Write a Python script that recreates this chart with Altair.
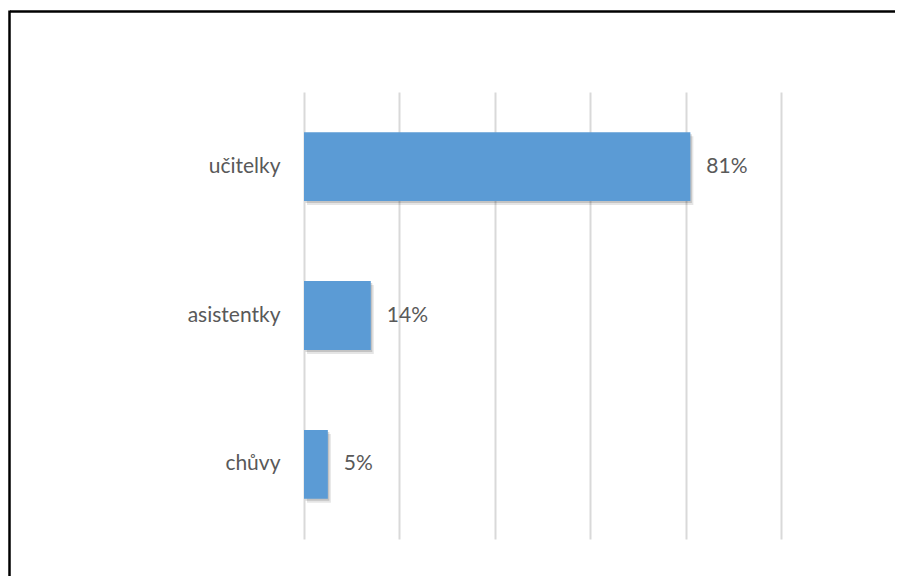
import altair as alt
import pandas as pd

categories = ["učitelky", "asistentky", "chůvy"]
values = [81, 14, 5]
labels = ["81%", "14%", "5%"]

df = pd.DataFrame({"cat": categories, "val": values, "lab": labels})

FONT = "Lato"
TXT = "#595959"

W, H = 477, 447
PAD = {"left": 296, "top": 84, "right": 118, "bottom": 41}

ysc = alt.Scale(domain=categories, paddingInner=0.537, paddingOuter=0.27)
xsc = alt.Scale(domain=[0, 100], nice=False)

base = alt.Chart(df)

xenc = alt.X("val:Q", scale=xsc,
             axis=alt.Axis(values=[0, 20, 40, 60, 80, 100], labels=False, ticks=False,
                           domain=False, title=None, grid=True, gridColor="#d9d9d9",
                           gridWidth=2))
yenc = alt.Y("cat:N", scale=ysc, sort=categories,
             axis=alt.Axis(title=None, ticks=False, domain=False, labelFont=FONT,
                           labelFontSize=21, labelColor=TXT, labelPadding=24))

shadow1 = base.mark_bar(color="#000000", opacity=0.10, xOffset=3, yOffset=4).encode(x=xenc, y=yenc)
shadow2 = base.mark_bar(color="#000000", opacity=0.15, xOffset=1.5, yOffset=2).encode(x=xenc, y=yenc)
bars = base.mark_bar(color="#5b9bd5").encode(x=xenc, y=yenc)
text = base.mark_text(align="left", baseline="middle", dx=16, font=FONT, fontSize=21,
                      color=TXT).encode(x=xenc, y=yenc, text="lab:N")

one = pd.DataFrame({"a": [0]})
border_top = alt.Chart(one).mark_rule(color="#000000", strokeWidth=2.5).encode(
    x=alt.value(-294), x2=alt.value(W + PAD["right"] - 4), y=alt.value(-80.5))
border_left = alt.Chart(one).mark_rule(color="#000000", strokeWidth=2.5).encode(
    x=alt.value(-294.5), y=alt.value(-81.5), y2=alt.value(H + PAD["bottom"] - 4))

chart = alt.layer(border_top, border_left, shadow1, shadow2, bars, text).properties(
    width=W, height=H,
    background="white",
    autosize=alt.AutoSizeParams(type="none"),
    padding=PAD,
).configure_view(stroke=None)

chart.save("out.html", embed_options={"renderer": "svg", "actions": False})
